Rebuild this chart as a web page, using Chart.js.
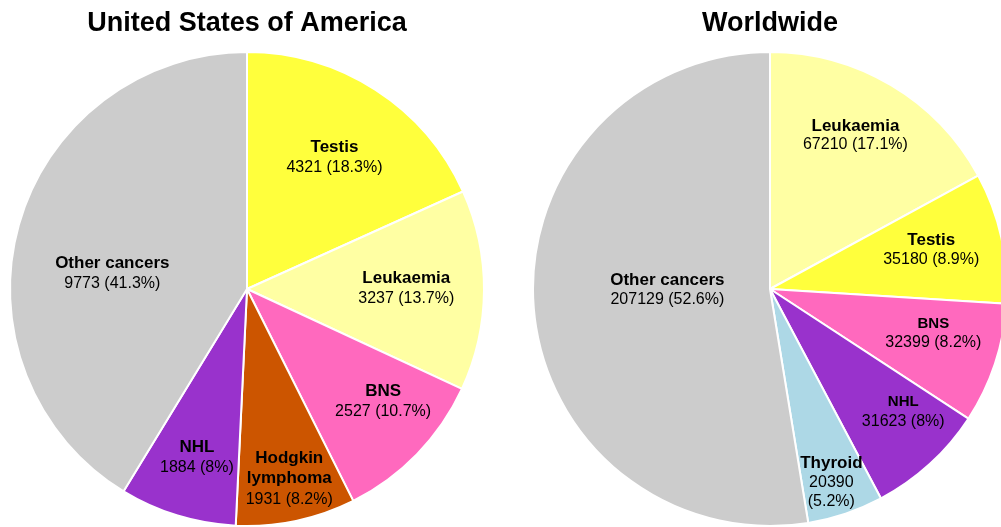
<!DOCTYPE html>
<html>
<head>
<meta charset="utf-8">
<script src="https://cdn.jsdelivr.net/npm/chart.js@4.4.0/dist/chart.umd.min.js"></script>
<style>
    html, body { margin: 0; padding: 0; background: #fff; overflow: hidden; width: 1001px; height: 527px; }
    .box { position: absolute; top: 0; width: 494px; height: 527px; }
</style>
</head>
<body>
<div class="box" style="left:0px"><canvas id="pie_usa"></canvas></div>
<div class="box" style="left:523px"><canvas id="pie_world"></canvas></div>
<script>
const usaLabels = ['Testis', 'Leukaemia', 'BNS', 'Hodgkin\nlymphoma', 'NHL', 'Other cancers'];
const usaValues = [4321, 3237, 2527, 1931, 1884, 9773];
const usaColors = ['#ffff3c', '#ffffa3', '#ff69be', '#cc5500', '#9932cc', '#cccccc'];

const worldLabels = ['Leukaemia', 'Testis', 'BNS', 'NHL', 'Thyroid', 'Other cancers'];
const worldValues = [67210, 35180, 32399, 31623, 20390, 207129];
const worldColors = ['#ffffa3', '#ffff3c', '#ff69be', '#9932cc', '#add8e6', '#cccccc'];

const font = "'Liberation Sans', Arial, Helvetica, sans-serif";

// draws name + "value (pct%)" inside each slice
const sliceLabels = {
    id: 'sliceLabels',
    afterDatasetsDraw(chart, args, opts) {
        const ctx = chart.ctx;
        const ds = chart.data.datasets[0];
        const total = ds.data.reduce((a, b) => a + b, 0);
        const meta = chart.getDatasetMeta(0);
        meta.data.forEach(function(arc, i) {
            const p = arc.getProps(['x', 'y', 'startAngle', 'endAngle', 'outerRadius'], true);
            const mid = (p.startAngle + p.endAngle) / 2 + opts.shift[i] * Math.PI / 180;
            const r = p.outerRadius * opts.radius[i];
            const x = p.x + Math.cos(mid) * r;
            const y = p.y + Math.sin(mid) * r;
            const pct = parseFloat((ds.data[i] / total * 100).toFixed(1));
            const nameLines = chart.data.labels[i].split('\n');
            const valueLines = opts.split[i]
                ? [String(ds.data[i]), '(' + pct + '%)']
                : [ds.data[i] + ' (' + pct + '%)'];
            const lines = nameLines.map(t => ({ t: t, bold: true }))
                .concat(valueLines.map(t => ({ t: t, bold: false })));
            const lh = opts.lineHeight;
            let ty = y - (lines.length - 1) * lh / 2;
            ctx.save();
            ctx.fillStyle = '#000';
            ctx.textAlign = 'center';
            ctx.textBaseline = 'middle';
            lines.forEach(function(l) {
                ctx.font = l.bold
                    ? 'bold ' + opts.nameSize[i] + 'px ' + font
                    : '16px ' + font;
                ctx.fillText(l.t, x, ty);
                ty += lh;
            });
            ctx.restore();
        });
    }
};

function make_pie(id, title, labels, values, colors, labelOpts) {
    const data = {
        labels: labels,
        datasets: [{
            data: values,
            backgroundColor: colors,
            borderColor: '#ffffff',
            borderWidth: 2,
            hoverOffset: 0
        }]
    };
    const config = {
        type: 'pie',
        data: data,
        options: {
            responsive: true,
            maintainAspectRatio: false,
            animation: false,
            layout: { padding: 0 },
            plugins: {
                legend: { display: false },
                tooltip: { enabled: false },
                title: {
                    display: true,
                    text: title,
                    color: '#000',
                    font: { family: font, size: 27, weight: 'bold' },
                    padding: { top: 7, bottom: 11.6 }
                },
                sliceLabels: labelOpts
            }
        },
        plugins: [sliceLabels]
    };
    const ctx = document.getElementById(id).getContext('2d');
    return new Chart(ctx, config);
}

make_pie('pie_usa', 'United States of America', usaLabels, usaValues, usaColors, {
    radius: [0.666, 0.672, 0.746, 0.82, 0.742, 0.572],
    shift: [0.8, -0.5, -4.5, -0.6, -0.5, -9.2],
    nameSize: [17, 17, 17, 17, 17, 17],
    split: [false, false, false, false, false, false],
    lineHeight: 20.5
});

make_pie('pie_world', 'Worldwide', worldLabels, worldValues, worldColors, {
    radius: [0.741, 0.70, 0.714, 0.764, 0.856, 0.433],
    shift: [-1.6, -1.1, -3.2, -5, 1, 4.1],
    nameSize: [17, 17, 15, 15, 17, 17],
    split: [false, false, false, false, true, false],
    lineHeight: 19
});
</script>
</body>
</html>
